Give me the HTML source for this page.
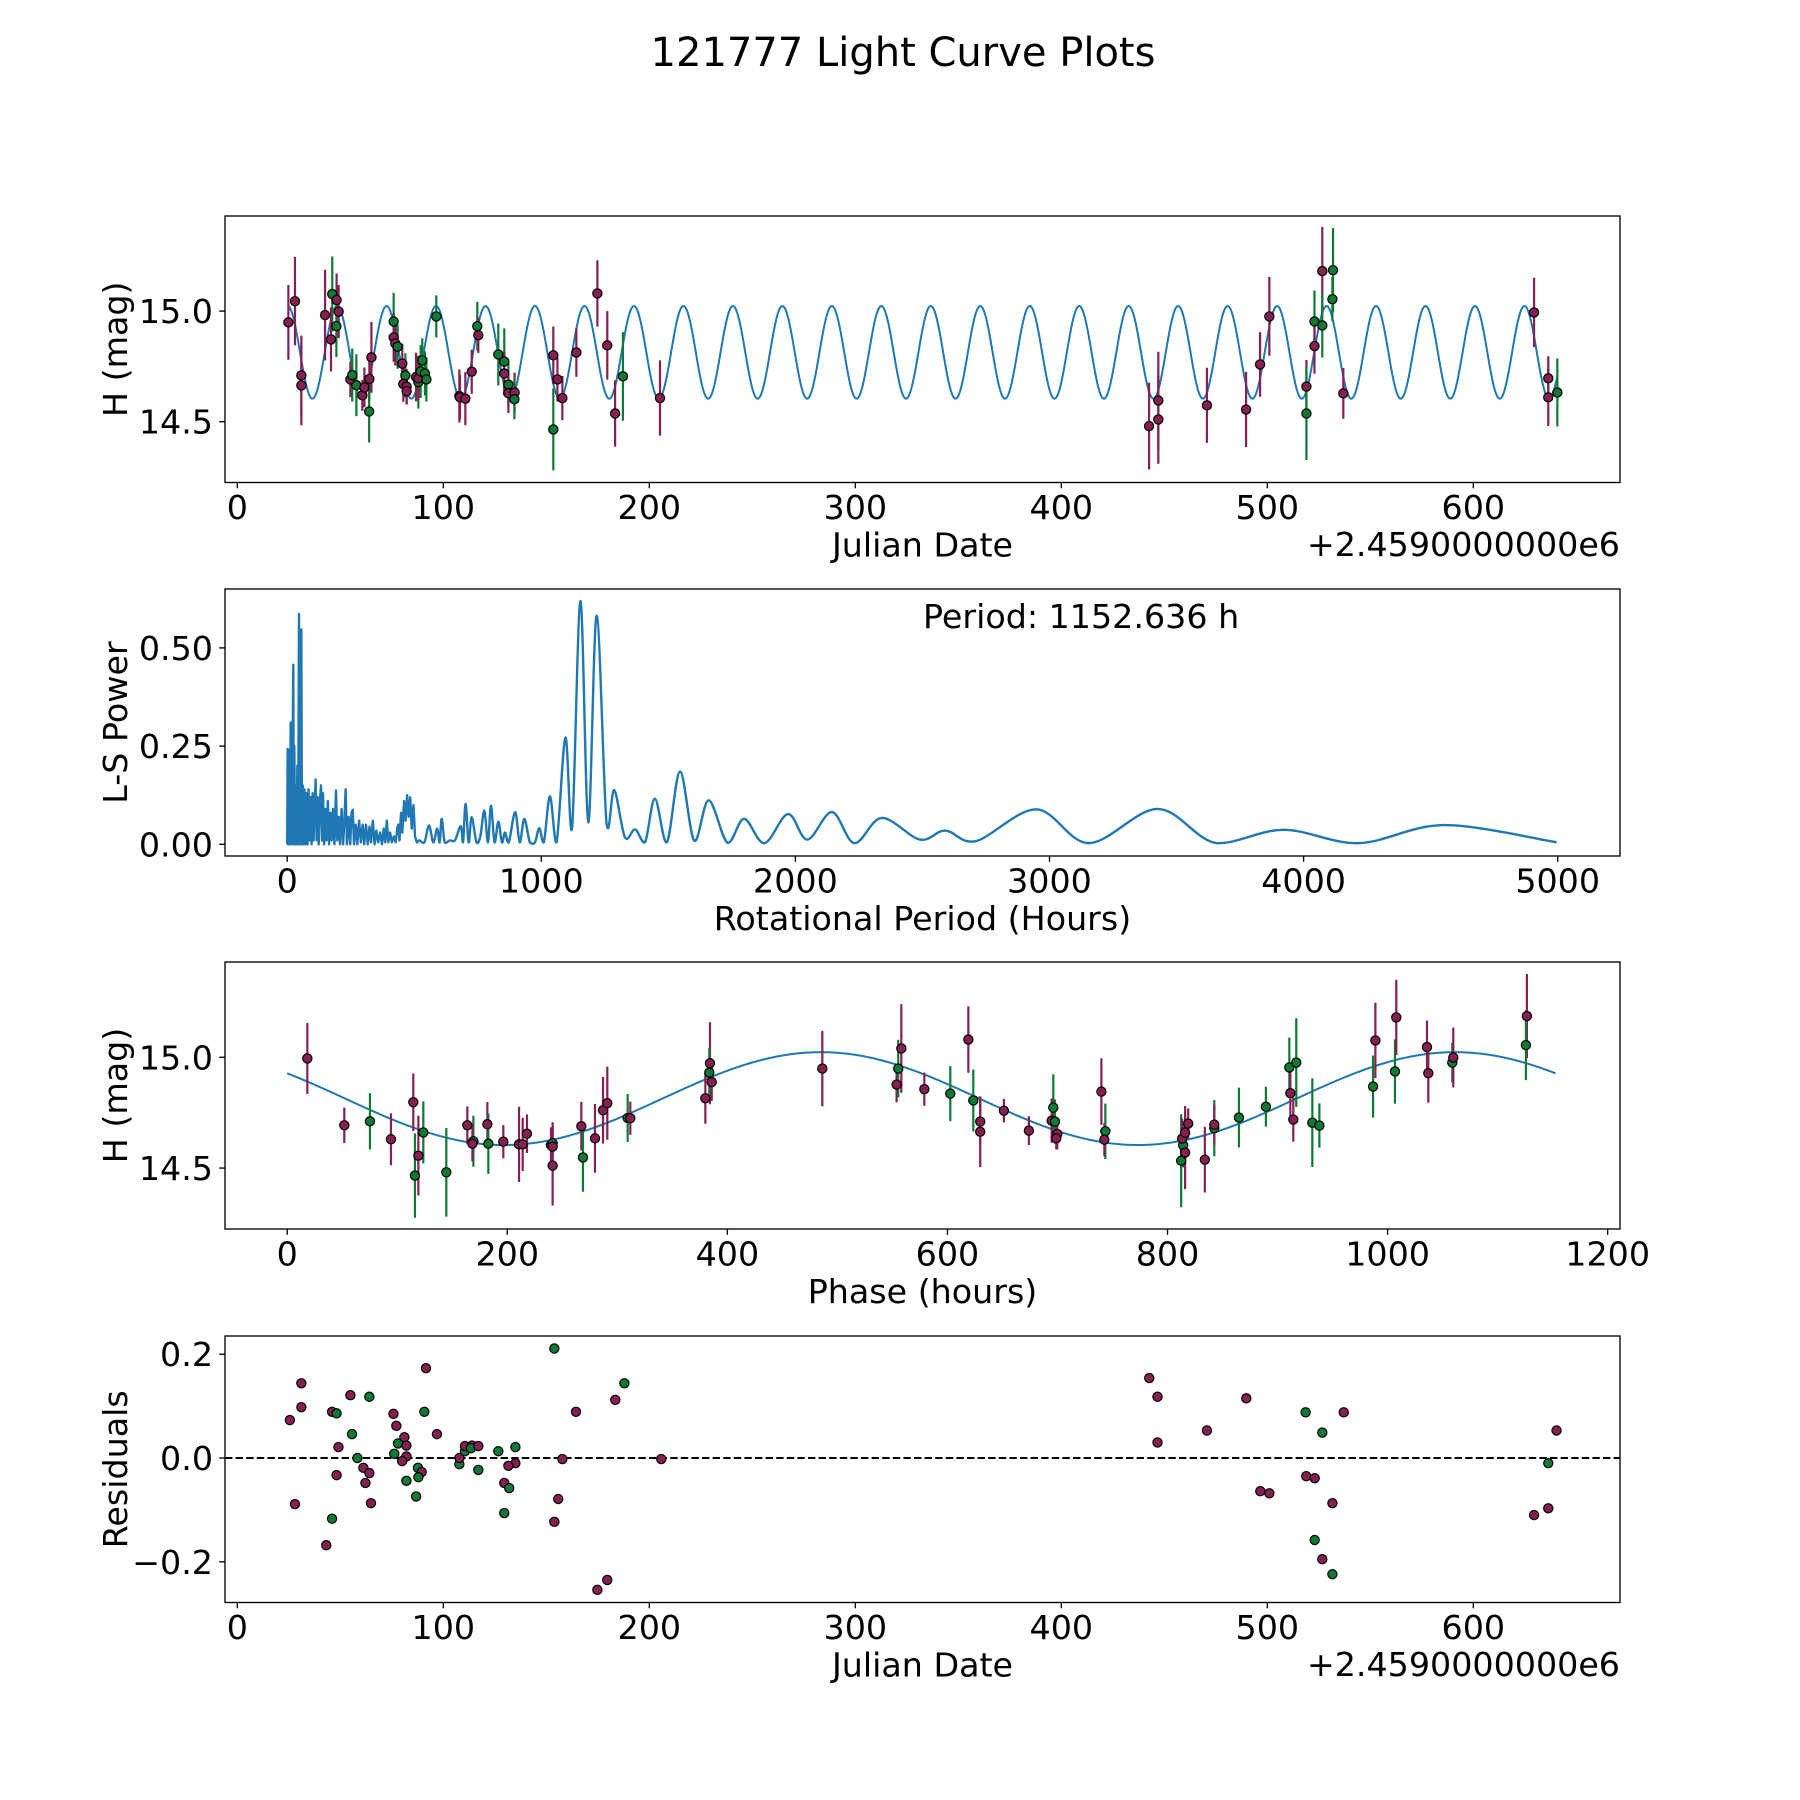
<!DOCTYPE html>
<html><head><meta charset="utf-8"><title>121777 Light Curve Plots</title>
<style>html,body{margin:0;padding:0;background:#fff}svg{display:block}text{font-family:"DejaVu Sans","Liberation Sans",sans-serif;fill:#000}</style>
</head><body>
<svg id="fig" xmlns="http://www.w3.org/2000/svg" width="1800" height="1800" viewBox="0 0 1800 1800">
<rect width="1800" height="1800" fill="#fff"/>
<text x="903" y="66" font-size="40" text-anchor="middle">121777 Light Curve Plots</text>
</svg>
<script>
// ---- Light curve data (Julian Date offset from 2459000, H mag, error, filter) ----
const lcJD  = [24.8,28.0,31.1,31.1,42.6,46.1,48.2,49.2,48.1,45.5,54.9,55.8,57.8,60.7,61.7,64.1,65.1,64.0,75.9,75.9,76.7,77.8,80.1,81.6,80.6,82.2,82.2,86.8,87.9,87.9,89.0,89.8,91.1,91.8,96.6,107.8,108.1,110.7,113.8,116.5,117.0,126.7,129.6,129.6,131.6,131.6,134.6,134.5,153.4,155.4,157.8,153.4,164.6,174.8,179.6,183.4,187.2,205.2,
442.6,447.1,447.1,470.7,489.7,496.5,501.0,519.0,519.0,522.9,522.9,526.7,526.7,531.9,531.6,536.9,629.5,636.4,636.4,640.8];
const lcMag = [14.949,15.045,14.709,14.664,14.982,15.077,15.05,14.998,14.932,14.872,14.691,14.711,14.665,14.619,14.655,14.693,14.791,14.546,14.953,14.881,14.854,14.839,14.763,14.709,14.67,14.658,14.638,14.702,14.679,14.696,14.727,14.777,14.718,14.691,14.976,14.616,14.61,14.604,14.726,14.932,14.891,14.804,14.772,14.718,14.668,14.629,14.632,14.601,14.8,14.691,14.607,14.465,14.813,15.08,14.845,14.537,14.705,14.607,
14.48,14.596,14.51,14.574,14.555,14.759,14.976,14.659,14.537,14.953,14.842,15.181,14.935,15.185,15.054,14.628,14.994,14.696,14.61,14.632];
const lcErr = [0.169,0.2,0.18,0.18,0.205,0.17,0.12,0.12,0.14,0.145,0.08,0.12,0.14,0.07,0.09,0.1,0.16,0.14,0.13,0.11,0.1,0.1,0.09,0.1,0.08,0.08,0.06,0.11,0.12,0.1,0.12,0.1,0.1,0.1,0.095,0.12,0.1,0.12,0.1,0.11,0.08,0.14,0.15,0.1,0.1,0.09,0.09,0.09,0.13,0.1,0.1,0.185,0.11,0.15,0.155,0.15,0.2,0.17,
0.196,0.22,0.2,0.17,0.17,0.146,0.178,0.12,0.21,0.14,0.125,0.2,0.145,0.19,0.1,0.115,0.157,0.1,0.13,0.154];
const lcBand = "mmmmmgmmgmmggmmmmggmmgmgmmmmgmgggggmmmmgmggmgmmgmmmgmmmmgm"+"mmmmmmmmggmmgggmmmmgm";
// ---- Sine model parameters ----
const modelMean = [14.8135];
const modelAmp = [0.2095];
const modelPeriodDays = [24.015];
const modelPeakJD = [96.5];
const modelPeakPhase = [485];
const foldPeriod = [1152.636];
// ---- Phase-folded data ----
const phHours = [18.3,51.9,75.2,94.3,114.6,119.2,116.1,123.7,144.6,163.7,169.2,168.3,181.9,182.8,196.4,210.7,214,217.9,239.7,241.2,241.2,241.2,267.3,268.8,279.7,287,290.9,309.4,311.8,380,384.2,383.6,385.8,
486.3,553.8,555.3,558.1,579,602.6,619,623.5,629.8,629.8,651.3,674,696.2,694.7,697.7,699.8,698.9,739.9,743.5,742.6,
812.4,814.2,813.3,816,816,818.8,833.9,842.5,842.5,864.9,889.4,910.7,917,911.6,914.3,931.6,938,986.8,988.9,1006.7,1007.9,1035.8,1037,1058.8,1059.7,1126.6,1125.7];
const phMag = [14.995,14.693,14.711,14.63,14.797,14.556,14.466,14.661,14.481,14.693,14.621,14.61,14.698,14.61,14.619,14.607,14.607,14.655,14.604,14.612,14.597,14.511,14.689,14.548,14.634,14.761,14.793,14.726,14.725,14.815,14.973,14.931,14.888,
14.949,14.877,14.949,15.04,14.856,14.836,15.08,14.805,14.71,14.664,14.759,14.669,14.773,14.714,14.71,14.654,14.634,14.845,14.666,14.628,
14.533,14.603,14.633,14.57,14.66,14.701,14.538,14.68,14.696,14.728,14.777,14.954,14.976,14.838,14.719,14.705,14.692,14.868,15.076,14.936,15.18,15.046,14.928,14.976,14.999,15.186,15.055];
const phErr = [0.16,0.08,0.127,0.117,0.13,0.18,0.19,0.14,0.2,0.085,0.115,0.08,0.1,0.136,0.075,0.17,0.12,0.087,0.08,0.06,0.11,0.18,0.11,0.155,0.155,0.15,0.165,0.108,0.075,0.115,0.185,0.11,0.085,
0.17,0.08,0.13,0.2,0.075,0.124,0.15,0.14,0.1,0.16,0.053,0.065,0.15,0.1,0.1,0.07,0.05,0.15,0.125,0.075,
0.21,0.1,0.09,0.165,0.12,0.068,0.148,0.127,0.09,0.135,0.09,0.135,0.2,0.12,0.1,0.2,0.1,0.14,0.17,0.145,0.17,0.12,0.133,0.09,0.135,0.19,0.158];
const phBand = "mmgmmmgggmgmmgmmmmmgmmmgmmmgmmmgm"+"mmgmmgmgmmmmgmgmmmgm"+"ggmmmmmgmggggmmgggmgmmmgmmgm";
// ---- Residuals ----
const resJD = [25.5,31.1,31.1,28.0,43.2,46.0,46.0,48.2,49.1,48.2,54.9,55.7,58.3,61.2,64.1,62.2,64.9,64.1,75.8,77.2,78.0,76.2,81.1,82.1,82.1,80.0,82.1,86.8,87.7,89.5,87.9,90.8,91.6,96.9,107.8,107.8,110.5,110.5,113.9,113.4,117.0,117.0,126.7,135.0,135.0,131.6,129.6,132.0,129.6,153.9,157.8,155.8,153.9,164.4,174.8,179.6,183.5,187.9,205.8,
442.7,446.7,446.7,470.7,489.8,496.6,501.0,518.6,518.9,523.0,526.7,537.1,531.6,523.0,526.7,531.6,629.5,636.4,636.4,640.4];
const resVal = [0.073,0.144,0.098,-0.089,-0.168,-0.117,0.089,0.086,0.021,-0.033,0.121,0.046,0.0,-0.019,-0.029,-0.048,-0.087,0.118,0.085,0.062,0.028,0.008,0.04,0.024,0.003,-0.006,-0.044,-0.074,-0.019,-0.027,-0.037,0.089,0.173,0.046,-0.012,0.0,0.013,0.023,0.024,0.019,0.023,-0.023,0.013,0.021,-0.01,-0.015,-0.048,-0.058,-0.106,0.211,-0.002,-0.079,-0.123,0.089,-0.254,-0.235,0.112,0.144,-0.002,
0.154,0.118,0.03,0.053,0.115,-0.064,-0.068,0.088,-0.035,-0.039,0.049,0.088,-0.087,-0.158,-0.195,-0.224,-0.11,-0.097,-0.01,0.053];
const resBand = "mmmmmgmgmmmggmmmmgmmggmmmmgggmggmmgmgmmgmgggmmmgggmmmmmmmgm"+"mmmmmmmgmmgmmgmgmmgm";
// ---- Lomb-Scargle periodogram ----
const lsPeriod = [0,1.8,3,5,7,9,11,13.6,15,17,19,21,24,26,28,31,34,37,40,43,46.4,48,51,53,55.6,58,61,64,68,72,76,80,84,88,92,96,100,104,108,112,116,120,124,128,133,137,141,145,150,155,160,165,170,175,180,186,192,197,203,208,214,220,225,230,235,242,248,253,258,263,270,276,283,290,297,303,310,317,324,330,337,344,351,358,366,373,380,386,392,398,405,412,420,427,433,437,442,448,453,460,466,472,478,484,490,497,503,510,
520,540,558,575,590,600,608,620,640,660,683,692,702,714,726,745,760,776,790,802,816,831,845,857,872,897,915,933,955,975,992,1010,1034,1060,1095,1121,1154,1185,1218,1257,1287,1329,1369,1408,1447,1494,1546,1602,1659,1733,1798,1878,1971,2047,2144,2232,2340,2490,2590,2710,2948,3155,3425,3656,3922,4217,4553,4996];
const lsPower = [0,0.243,0,0.2,0,0.24,0,0.31,0.02,0.31,0,0.2,0.457,0,0.25,0,0.15,0,0.2,0,0.586,0,0.3,0,0.547,0,0.15,0,0.14,0,0.13,0,0.14,0.01,0.12,0,0.13,0.01,0.1,0.165,0.01,0.12,0,0.1,0.15,0.01,0.13,0,0.09,0.01,0.11,0,0.08,0.01,0.09,0,0.137,0.01,0.07,0,0.09,0,0.06,0.14,0,0.07,0,0.08,0.088,0,0.05,0,0.06,0.005,0.05,0,0.05,0,0.045,0.005,0.06,0,0.035,0.005,0.03,0,0.04,0.005,0.06,0.005,0.03,0.005,0.02,0.005,0.04,0.05,0.01,0.08,0.03,0.11,0.06,0.125,0.07,0.12,0.04,0.1,0.02,0.005,
0.01,0.005,0.048,0.005,0.04,0.005,0.065,0.005,0.01,0.01,0.046,0.005,0.103,0.005,0.069,0.005,0.02,0.086,0.005,0.098,0.005,0.058,0.005,0.03,0.005,0.082,0.005,0.065,0.005,0.005,0.041,0.005,0.122,0.005,0.272,0.04,0.619,0.056,0.582,0.052,0.138,0.018,0.038,0.005,0.116,0.005,0.185,0.009,0.112,0.004,0.065,0.003,0.077,0.012,0.082,0.003,0.067,0.012,0.035,0.008,0.089,0.003,0.09,0.003,0.037,0.003,0.049,0.005];

const NS = "http://www.w3.org/2000/svg";
const svg = document.getElementById('fig');
const L = 225, R = 1620;
const FS = 33.3;
const COL = {m:'#861f52', g:'#0c7a35'};
function mk(tag, attrs, parent){ const e = document.createElementNS(NS, tag); for (const k in attrs) e.setAttribute(k, attrs[k]); (parent||svg).appendChild(e); return e; }
function lin(d0,d1,p0,p1){ return v => p0 + (v-d0)*(p1-p0)/(d1-d0); }

function axesFrame(top, bottom, name, xs, xTicks, xFmt, ys, yTicks, yFmt, xlabel, ylabel){
  const g = mk('g', {});
  
  
  const fr = mk('rect', {x:L, y:top, width:R-L, height:bottom-top, fill:'none', stroke:'#000', 'stroke-width':1.33}, g);
  
  
  xTicks.forEach(t => {
    const x = xs(t);
    mk('line', {x1:x, x2:x, y1:bottom, y2:bottom+5.8, stroke:'#000', 'stroke-width':1.33}, g);
    const tx = mk('text', {x:x, y:bottom+36.5, 'font-size':FS, 'text-anchor':'middle'}, g);
    
    
    tx.textContent = xFmt(t);
  });
  yTicks.forEach(t => {
    const y = ys(t);
    mk('line', {x1:L-5.8, x2:L, y1:y, y2:y, stroke:'#000', 'stroke-width':1.33}, g);
    const ty = mk('text', {x:213, y:y+12, 'font-size':FS, 'text-anchor':'end'}, g);
    
    
    ty.textContent = yFmt(t);
  });
  const xl = mk('text', {x:(L+R)/2, y:bottom+74, 'font-size':FS, 'text-anchor':'middle'}, g);
  
  
  xl.textContent = xlabel;
  const cy = (top+bottom)/2;
  const yl = mk('text', {x:0, y:0, 'font-size':FS, 'text-anchor':'middle', transform:`translate(127,${cy}) rotate(-90)`}, g);
  
  
  yl.textContent = ylabel;
  return g;
}
function clip(id, top, bottom){
  const c = mk('clipPath', {id:id});
  mk('rect', {x:L, y:top, width:R-L, height:bottom-top}, c);
}
const fmt1 = v => v.toFixed(1).replace('-', '\u2212');
const fmt2 = v => v.toFixed(2);
const fmt0 = v => String(v);
function modelJD(t){ return modelMean[0] + modelAmp[0]*Math.cos(2*Math.PI*(t-modelPeakJD[0])/modelPeriodDays[0]); }
function modelPh(p){ return modelMean[0] + modelAmp[0]*Math.cos(2*Math.PI*(p-modelPeakPhase[0])/(foldPeriod[0]/2)); }

function errPoints(g, xs, ys, X, Y, E, B, name){
  X.forEach((v,i) => {
    const c = COL[B[i]] || COL.m;
    const ln = mk('line', {x1:xs(v), x2:xs(v), y1:ys(Y[i]-E[i]), y2:ys(Y[i]+E[i]), stroke:c, 'stroke-width':2.2}, g);
    
    
  });
  X.forEach((v,i) => {
    const c = COL[B[i]] || COL.m;
    const p = mk('circle', {cx:xs(v), cy:ys(Y[i]), r:4.6, fill:c, stroke:'#000', 'stroke-width':1.2}, g);
    
    
  });
}

// ===== Panel 1: light curve =====
(function(){
  const top=216, bottom=482.5;
  const xs = lin(0,600,237.3,1473.3), ys = lin(15.43,14.225,top,bottom);
  axesFrame(top,bottom,'light-curve-panel',xs,[0,100,200,300,400,500,600],fmt0,ys,[14.5,15.0],fmt1,'Julian Date','H (mag)');
  const off = mk('text', {x:R, y:556, 'font-size':FS, 'text-anchor':'end'});
  
  
  off.textContent = '+2.4590000000e6';
  clip('c1', top, bottom);
  const g = mk('g', {'clip-path':'url(#c1)'});
  let d = '';
  const t0 = lcJD.reduce((a,b)=>Math.min(a,b)), t1 = lcJD.reduce((a,b)=>Math.max(a,b));
  for (let k=0;k<=1500;k++){ const t = t0+(t1-t0)*k/1500; d += (k?'L':'M')+xs(t).toFixed(2)+','+ys(modelJD(t)).toFixed(2); }
  const path = mk('path', {d:d, fill:'none', stroke:'#1f77b4', 'stroke-width':2}, g);
  
  
  errPoints(g, xs, ys, lcJD, lcMag, lcErr, lcBand, 'observation');
})();

// ===== Panel 2: periodogram =====
(function(){
  const top=589, bottom=856;
  const xs = lin(0,5000,287.2,1557.7), ys = lin(0,0.5,844.3,647.9);
  axesFrame(top,bottom,'periodogram-panel',xs,[0,1000,2000,3000,4000,5000],fmt0,ys,[0,0.25,0.5],fmt2,'Rotational Period (Hours)','L-S Power');
  clip('c2', top, bottom);
  const g = mk('g', {'clip-path':'url(#c2)'});
  const pts = lsPeriod.map((p,i)=>[xs(p), ys(lsPower[i])]);
  let d = 'M'+pts[0][0]+','+pts[0][1];
  for (let i=1;i<pts.length;i++){
    if (lsPeriod[i] <= 515) { d += 'L'+pts[i][0].toFixed(2)+','+pts[i][1].toFixed(2); continue; }
    const p0 = pts[Math.max(i-2,0)], p1 = pts[i-1], p2 = pts[i], p3 = pts[Math.min(i+1,pts.length-1)];
    const c1x = p1[0]+(p2[0]-p0[0])/6, c1y = p1[1]+(p2[1]-p0[1])/6;
    const c2x = p2[0]-(p3[0]-p1[0])/6, c2y = p2[1]-(p3[1]-p1[1])/6;
    d += `C${c1x.toFixed(2)},${Math.min(c1y,844.3).toFixed(2)} ${c2x.toFixed(2)},${Math.min(c2y,844.3).toFixed(2)} ${p2[0].toFixed(2)},${p2[1].toFixed(2)}`;
  }
  const path = mk('path', {d:d, fill:'none', stroke:'#1f77b4', 'stroke-width':2.4, 'stroke-linejoin':'round'}, g);
  
  
  const tx = mk('text', {x:923, y:628, 'font-size':FS});
  
  
  tx.textContent = 'Period: ' + foldPeriod[0].toFixed(3) + ' h';
})();

// ===== Panel 3: phase-folded =====
(function(){
  const top=962, bottom=1229;
  const xs = lin(0,1000,287.2,1387.6), ys = lin(15.43,14.225,top,bottom);
  axesFrame(top,bottom,'phase-panel',xs,[0,200,400,600,800,1000,1200],fmt0,ys,[14.5,15.0],fmt1,'Phase (hours)','H (mag)');
  clip('c3', top, bottom);
  const g = mk('g', {'clip-path':'url(#c3)'});
  let d = '';
  for (let k=0;k<=600;k++){ const p = foldPeriod[0]*k/600; d += (k?'L':'M')+xs(p).toFixed(2)+','+ys(modelPh(p)).toFixed(2); }
  const path = mk('path', {d:d, fill:'none', stroke:'#1f77b4', 'stroke-width':2}, g);
  
  
  errPoints(g, xs, ys, phHours, phMag, phErr, phBand, 'phase');
})();

// ===== Panel 4: residuals =====
(function(){
  const top=1336, bottom=1602.5;
  const xs = lin(0,600,237.3,1473.3), ys = lin(0,0.2,1458,1354.2);
  axesFrame(top,bottom,'residuals-panel',xs,[0,100,200,300,400,500,600],fmt0,ys,[-0.2,0,0.2],fmt1,'Julian Date','Residuals');
  const off = mk('text', {x:R, y:1676, 'font-size':FS, 'text-anchor':'end'});
  
  
  off.textContent = '+2.4590000000e6';
  clip('c4', top, bottom);
  const g = mk('g', {'clip-path':'url(#c4)'});
  const zl = mk('line', {x1:L, x2:R, y1:ys(0), y2:ys(0), stroke:'#000', 'stroke-width':2, 'stroke-dasharray':'7.4,3.2'}, g);
  
  
  resJD.forEach((v,i) => {
    const p = mk('circle', {cx:xs(v), cy:ys(resVal[i]), r:4.6, fill:COL[resBand[i]]||COL.m, stroke:'#000', 'stroke-width':1.2}, g);
    
    
  });
})();
</script>
</body></html>
